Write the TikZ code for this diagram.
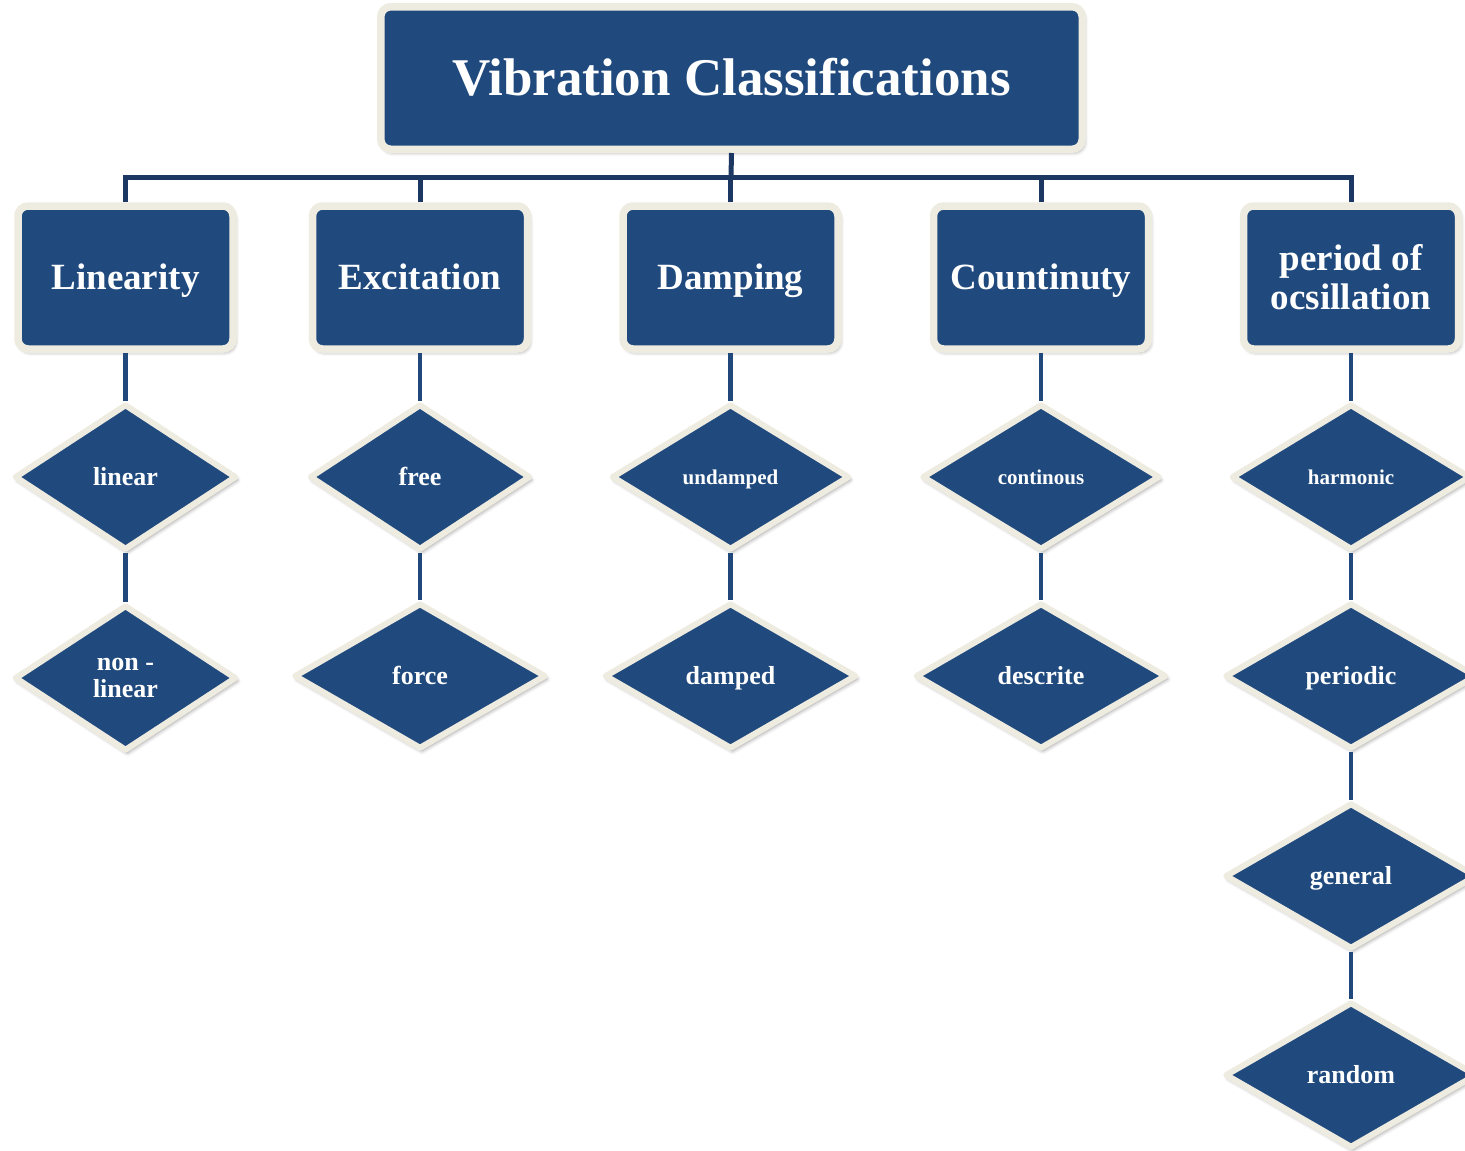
\documentclass[tikz,border=0pt]{standalone}
\usepackage{fontspec}
\setmainfont{Liberation Serif}
\usetikzlibrary{shapes.geometric,shadows.blur}
\definecolor{boxblue}{RGB}{32,74,126}
\definecolor{cream}{RGB}{238,235,224}
\definecolor{linkblue}{RGB}{32,72,122}
\definecolor{busblue}{RGB}{28,56,98}
\begin{document}
\begin{tikzpicture}[x=1pt,y=-1pt,
  softshadow/.style={blur shadow={shadow xshift=2pt,shadow yshift=-3pt,shadow blur radius=4pt,shadow opacity=40}},
  titlebox/.style={rectangle,rounded corners=10pt,fill=boxblue,draw=cream,line width=7.5pt,text=white,
    minimum width=701.5pt,minimum height=142.5pt,inner sep=0pt,
    text height=44pt,text depth=10pt,
    font=\bfseries\fontsize{53}{60}\selectfont,softshadow},
  catbase/.style={rectangle,rounded corners=10pt,fill=boxblue,draw=cream,line width=7.5pt,text=white,
    minimum width=215pt,minimum height=143pt,inner sep=0pt,
    font=\bfseries\fontsize{37}{39}\selectfont,softshadow},
  catone/.style={catbase,text height=32.5pt,text depth=8pt},
  catmulti/.style={catbase,align=center},
  diabase/.style={diamond,fill=boxblue,draw=cream,line width=6pt,line join=round,text=white,
    minimum height=146pt,inner sep=0pt,
    font=\bfseries\fontsize{26}{27}\selectfont,softshadow},
  diaone/.style={diabase,text height=23pt,text depth=6pt},
  diamulti/.style={diabase,align=center},
  smalltext/.style={font=\bfseries\fontsize{21}{23}\selectfont,text height=19pt,text depth=5pt},
  link/.style={draw=linkblue,line width=4.5pt},
  busline/.style={draw=busblue,line width=5pt}
]
\useasboundingbox (0,0) rectangle (1465,1151);

% title and categories
\node[titlebox] (title) at (731.5,78) {Vibration Classifications};
\node[catone] (lin) at (125.5,277.5) {Linearity};
\node[catone] (exc) at (420,277.5) {Excitation};
\node[catone] (dam) at (730.5,277.5) {Damping};
\node[catone] (con) at (1041,277.5) {Countinuty};
\node[catmulti] (per) at (1351,277.5) {period of\\ocsillation};

% diamonds
\node[diaone,minimum width=222pt] (linear) at (125.5,477) {linear};
\node[diamulti,minimum width=222pt] (nonlinear) at (125.5,678) {non -\\linear};
\node[diaone,minimum width=221pt] (free) at (420,477) {free};
\node[diaone,minimum width=252pt] (force) at (420,676) {force};
\node[diaone,minimum width=238pt,smalltext] (undamped) at (730.5,477) {undamped};
\node[diaone,minimum width=252pt] (damped) at (730.5,676) {damped};
\node[diaone,minimum width=238pt,smalltext] (continous) at (1041,477) {continous};
\node[diaone,minimum width=251pt] (descrite) at (1041,676) {descrite};
\node[diaone,minimum width=239pt,smalltext] (harmonic) at (1351,477) {harmonic};
\node[diaone,minimum width=252pt] (periodic) at (1351,676) {periodic};
\node[diaone,minimum width=252pt] (general) at (1351,876) {general};
\node[diaone,minimum width=252pt] (random) at (1351,1075) {random};

% bus
\coordinate (bus) at (731,177);
\draw[busline] (title.south) -- (bus);
\draw[busline] (lin.north) |- (bus);
\draw[busline] (per.north) |- (bus);
\draw[busline] (exc.north) -- (exc.north |- bus);
\draw[busline] (dam.north) -- (dam.north |- bus);
\draw[busline] (con.north) -- (con.north |- bus);

% links
\draw[link] (lin.south) -- (linear.north);
\draw[link] (linear.south) -- (nonlinear.north);
\draw[link] (exc.south) -- (free.north);
\draw[link] (free.south) -- (force.north);
\draw[link] (dam.south) -- (undamped.north);
\draw[link] (undamped.south) -- (damped.north);
\draw[link] (con.south) -- (continous.north);
\draw[link] (continous.south) -- (descrite.north);
\draw[link] (per.south) -- (harmonic.north);
\draw[link] (harmonic.south) -- (periodic.north);
\draw[link] (periodic.south) -- (general.north);
\draw[link] (general.south) -- (random.north);
\end{tikzpicture}
\end{document}
